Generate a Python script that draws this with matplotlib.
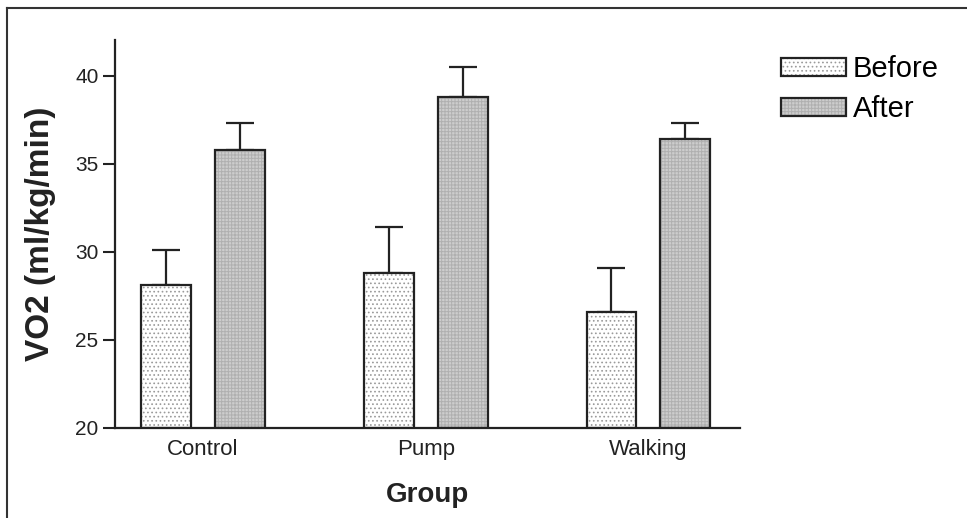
import numpy as np
import matplotlib
matplotlib.use("Agg")
import matplotlib.pyplot as plt
from matplotlib.lines import Line2D
from matplotlib.patches import Patch

plt.rcParams['font.family'] = ['Liberation Sans', 'DejaVu Sans']
plt.rcParams['hatch.linewidth'] = 0.7

# VO2 means and SEM per group
groups = ["Control", "Pump", "Walking"]
before = [28.1, 28.8, 26.6]
before_err = [2.0, 2.6, 2.5]
after = [35.8, 38.8, 36.4]
after_err = [1.5, 1.7, 0.9]
yticks = [20, 25, 30, 35, 40]

before_fill = dict(facecolor="white", edgecolor="#9a9a9a", hatch="....")
after_fill = dict(facecolor="#cdcdcd", edgecolor="#b0b0b0", hatch="+++++")

fig = plt.figure(figsize=(9.67, 5.18), dpi=100)
ax = fig.add_axes([0.119, 0.174, 0.646, 0.749])

x = np.arange(len(groups))
w = 0.224
off = 0.166

# hatched fills first, black outlines on top
ax.bar(x - off, np.array(before) - 20, w, bottom=20, linewidth=0, zorder=2,
       **before_fill)
ax.bar(x + off, np.array(after) - 20, w, bottom=20, linewidth=0, zorder=2,
       **after_fill)
ax.bar(x - off, np.array(before) - 20, w, bottom=20, fill=False,
       edgecolor="#222222", linewidth=1.6, zorder=3)
ax.bar(x + off, np.array(after) - 20, w, bottom=20, fill=False,
       edgecolor="#222222", linewidth=1.6, zorder=3)

# upper error bars only
zeros = [0] * len(groups)
ax.errorbar(x - off, before, yerr=[zeros, before_err], fmt="none",
            ecolor="#222222", elinewidth=1.6, capsize=10, capthick=1.6, zorder=1)
ax.errorbar(x + off, after, yerr=[zeros, after_err], fmt="none",
            ecolor="#222222", elinewidth=1.6, capsize=10, capthick=1.6, zorder=1)

ax.set_xlim(-0.395, 2.41)
ax.set_ylim(20, 42.05)
ax.set_yticks(yticks)
ax.set_xticks(x)
ax.set_xticklabels(groups)
ax.tick_params(axis="y", direction="out", length=9, width=1.5,
               labelsize=15, colors="#222222", pad=3)
ax.tick_params(axis="x", length=0, labelsize=16, colors="#222222", pad=8)
for s in ["top", "right"]:
    ax.spines[s].set_visible(False)
for s in ["left", "bottom"]:
    ax.spines[s].set_linewidth(1.6)
    ax.spines[s].set_color("#222222")

ax.set_ylabel("VO2 (ml/kg/min)", fontsize=24, fontweight="bold",
              color="#222222", labelpad=14)
ax.set_xlabel("Group", fontsize=20, fontweight="bold", color="#222222",
              labelpad=16)

outline = dict(fill=False, edgecolor="#222222", linewidth=1.6)
handles = [
    (Patch(linewidth=0, **before_fill), Patch(**outline)),
    (Patch(linewidth=0, **after_fill), Patch(**outline)),
]
fig.legend(handles, ["Before", "After"], loc="upper left",
           bbox_to_anchor=(0.808, 0.893), frameon=False, fontsize=21,
           handlelength=2.2, handleheight=0.55, handletextpad=0.25,
           labelspacing=0.4, borderaxespad=0, borderpad=0)

# outer frame lines
fig.add_artist(Line2D([0.007, 1.0], [0.985, 0.985], color="#333333", lw=1.5))
fig.add_artist(Line2D([0.007, 0.007], [0.0, 0.985], color="#333333", lw=1.5))

fig.savefig("out.png", dpi=100)
